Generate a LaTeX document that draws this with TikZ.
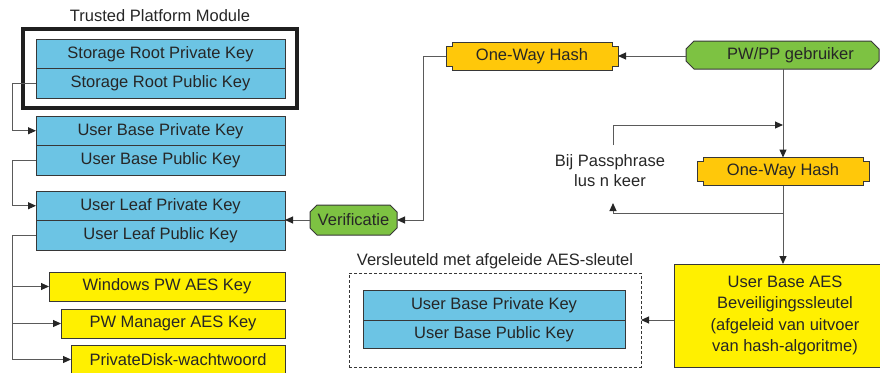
\documentclass[tikz,border=0pt]{standalone}
\usepackage{fontspec}
\setmainfont{Liberation Sans}
\usetikzlibrary{arrows.meta,backgrounds,calc}
\definecolor{keyblue}{RGB}{108,196,228}
\definecolor{keyyellow}{RGB}{255,240,0}
\definecolor{hashorange}{RGB}{255,200,10}
\definecolor{vgreen}{RGB}{125,194,66}
\definecolor{linec}{RGB}{55,55,55}
\definecolor{conn}{RGB}{90,90,90}
\newcommand{\hashdraw}[1]{\draw[hashst] (#1.north west) -- (#1.north east) -- ([yshift=-4pt]#1.north east) -- ([xshift=6pt,yshift=-4pt]#1.north east) -- ([xshift=6pt,yshift=4pt]#1.south east) -- ([yshift=4pt]#1.south east) -- (#1.south east) -- (#1.south west) -- ([yshift=4pt]#1.south west) -- ([xshift=-6pt,yshift=4pt]#1.south west) -- ([xshift=-6pt,yshift=-4pt]#1.north west) -- ([yshift=-4pt]#1.north west) -- cycle;}
\newcommand{\chamdraw}[3]{\draw[greenst] ([xshift=#2]#1.north west) -- ([xshift=-#2]#1.north east) -- ([yshift=-#3]#1.north east) -- ([yshift=#3]#1.south east) -- ([xshift=-#2]#1.south east) -- ([xshift=#2]#1.south west) -- ([yshift=#3]#1.south west) -- ([yshift=-#3]#1.north west) -- cycle;}
\begin{document}
\begin{tikzpicture}[x=1pt,y=-1pt,
  every node/.style={font=\fontsize{16.5}{21.5}\selectfont, text=black!85, inner sep=0pt, outer sep=0pt},
  keyb/.style={draw=linec, fill=keyblue, line width=1pt, minimum width=249, minimum height=29.5, anchor=north west},
  keyy/.style={draw=linec, fill=keyyellow, line width=1pt, minimum height=29, anchor=north west},
  hashst/.style={draw=linec, fill=hashorange, line width=1pt},
  greenst/.style={draw=linec, fill=vgreen, line width=1pt},
  plain/.style={minimum width=160, minimum height=28},
  conn/.style={draw=conn, line width=1pt},
  arr/.style={conn, -{Triangle[length=8pt,width=7pt]}, arrows={[color=black!85]}}
]
\useasboundingbox (0,0) rectangle (880,372);

% Trusted Platform Module
\node (tpmt) at (160,16) {Trusted Platform Module};
\node[draw=black!88, line width=3.5pt, minimum width=274, minimum height=79, anchor=north west] (tpm) at (23,29) {};
\node[keyb] (srpriv) at (36,39) {Storage Root Private Key};
\node[keyb] (srpub) at (36,68.5) {Storage Root Public Key};

\node[keyb] (ubpriv) at (36,116) {User Base Private Key};
\node[keyb] (ubpub) at (36,145.5) {User Base Public Key};

\node[keyb] (ulpriv) at (36,191) {User Leaf Private Key};
\node[keyb] (ulpub) at (36,220.5) {User Leaf Public Key};

\node[keyy, minimum width=236] (win) at (49,272) {Windows PW AES Key};
\node[keyy, minimum width=224] (pwm) at (61,309) {PW Manager AES Key};
\node[keyy, minimum width=214] (pd) at (71,345) {PrivateDisk-wachtwoord};

% left connectors
\draw[arr] (srpub.west) -- ++(-24,0) |- (ubpriv.west);
\draw[arr] (ubpub.west) -- ++(-24,0) |- (ulpriv.west);
\draw[conn] (ulpub.west) -- ++(-24,0) coordinate (lb) -- (lb |- pd.west);
\draw[arr] (lb |- win.west) -- (win.west);
\draw[arr] (lb |- pwm.west) -- (pwm.west);
\draw[arr] (lb |- pd.west) -- (pd.west);

% hashes and green nodes
\node[plain] (h1) at (532,56) {One-Way Hash};
\node[plain] (h2) at (783,171.5) {One-Way Hash};
\node[minimum width=193, minimum height=28] (pw) at (782.5,55) {\hspace*{16pt}PW/PP gebruiker};
\node[minimum width=87, minimum height=30] (ver) at (353.5,220) {Verificatie};
\begin{scope}[on background layer]
\hashdraw{h1}
\hashdraw{h2}
\chamdraw{pw}{8pt}{8pt}
\chamdraw{ver}{7pt}{7pt}
\end{scope}
\coordinate (h1w) at ([xshift=-6pt]h1.west);
\coordinate (h1e) at ([xshift=6pt]h1.east);
\coordinate (vx) at (423,56);

\draw[arr] (pw.west |- h1e) -- (h1e);
\draw[arr] (h1w) -- (vx) |- (ver.east);
\draw[arr] (ver.west) -- (ver.west -| ulpriv.east);

% loop
\node[align=center, font=\fontsize{16.5}{20}\selectfont] (loop) at (610,171) {Bij Passphrase\\lus n keer};
\coordinate (lt) at (613,145);
\coordinate (ltop) at (613,125);
\coordinate (lbot) at (613,203);
\coordinate (lbl) at (613,213);
\draw[arr] (lt) -- (ltop) -- (ltop -| h2.north);
\draw[arr] (pw.south -| h2.north) -- (h2.north);

% AES key
\node[draw=linec, fill=keyyellow, line width=1pt, minimum width=222, minimum height=103, anchor=north west, align=center] (aes) at (674,264) {User Base AES\\Beveiligingssleutel\\(afgeleid van uitvoer\\van hash-algoritme)};
\coordinate (br) at (lbl -| h2.south);
\draw[conn] (h2.south) -- (br);
\draw[arr] (br) -- (lbl) -- (lbot);
\draw[arr] (br) -- (aes.north -| h2.south);

% encrypted box
\node (enct) at (495,261) {Versleuteld met afgeleide AES-sleutel};
\node[draw=linec, dash pattern=on 3pt off 2pt, line width=0.8pt, minimum width=292, minimum height=94, anchor=north west] (enc) at (349,273) {};
\node[keyb, minimum width=262, minimum height=30] (epriv) at (363,290) {User Base Private Key};
\node[keyb, minimum width=262, minimum height=28] (epub) at (363,320) {User Base Public Key};
\draw[arr] (aes.west |- enc.east) -- (enc.east);
\end{tikzpicture}
\end{document}
